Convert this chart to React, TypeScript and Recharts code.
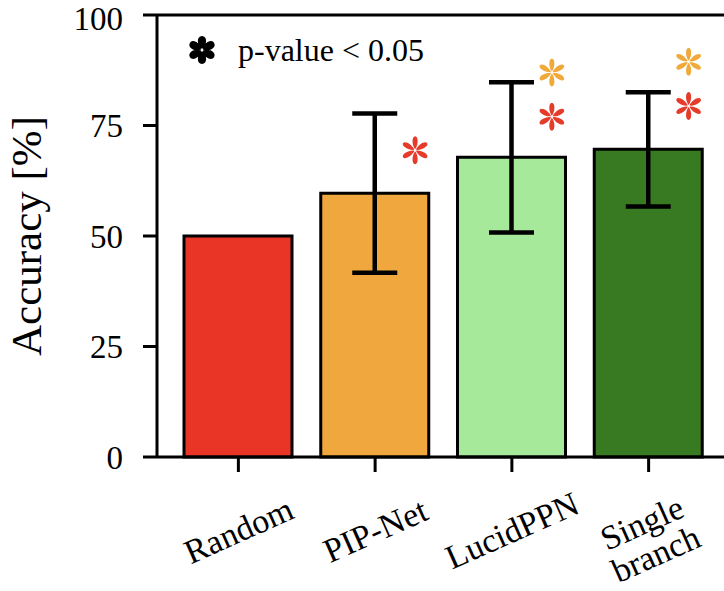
import { ComposedChart, Bar, Cell, XAxis, YAxis, ErrorBar, Scatter, ReferenceLine } from "recharts";

const categories = ["Random", "PIP-Net", "LucidPPN", "Single\nbranch"];
const accuracy = [50, 59.7, 67.8, 69.6];
const errors = [null, 18, 17, 12.9];
const redStars = [null, 69.4, 77, 79.4];
const orangeStars = [null, null, 87, 89.4];
const yTicks = [0, 25, 50, 75, 100];

const barColors = ["#e83525", "#f0a83e", "#a6e99a", "#387a22"];
const RED = "#e53b2b";
const ORANGE = "#f0aa3c";
const FONT = "Liberation Serif";

const chartData = categories.map((name, i) => ({
  name,
  accuracy: accuracy[i],
  err: errors[i],
  red: redStars[i],
  orange: orangeStars[i],
}));

// six teardrop petals
const asteriskPath = (cx: number, cy: number, r: number, w: number) => {
  let d = "";
  for (let k = 0; k < 6; k++) {
    const a = (k * Math.PI) / 3;
    const pt = (px: number, py: number) => {
      const x = cx + px * Math.cos(a) - py * Math.sin(a);
      const y = cy + px * Math.sin(a) + py * Math.cos(a);
      return `${x.toFixed(2)} ${y.toFixed(2)}`;
    };
    d += `M${pt(0, -1)} C${pt(w, -r * 0.35)} ${pt(w, -r)} ${pt(0, -r)} C${pt(-w, -r)} ${pt(-w, -r * 0.35)} ${pt(0, -1)} Z `;
  }
  return d;
};

const starShape = (color: string) => (props: any) => {
  const { cx, cy } = props;
  if (cx == null || cy == null || isNaN(cy)) return <g />;
  return <path d={asteriskPath(cx + 40, cy, 14, 3.4)} fill={color} />;
};

const XTick = (props: any) => {
  const { x, y, payload } = props;
  const lines = String(payload.value).split("\n");
  const cy = y + (lines.length > 1 ? 64 : 56);
  return (
    <g transform={`translate(${x},${cy}) rotate(-24)`}>
      <text textAnchor="middle" style={{ fontFamily: FONT, fontSize: 34 }} fill="#000" dominantBaseline="central">
        {lines.map((l, i) => (
          <tspan key={i} x={0} dy={i === 0 ? -((lines.length - 1) * 34) / 2 : 34}>
            {l}
          </tspan>
        ))}
      </text>
    </g>
  );
};

const App = () => {
  return (
    <div style={{ position: "absolute", left: 0, top: 0, width: 724, height: 591, background: "#fff" }}>
      <ComposedChart width={724} height={591} data={chartData} margin={{ top: 15, right: 0, bottom: 0, left: 0 }} barSize={108}>
        <XAxis
          dataKey="name"
          height={134}
          padding={{ left: 13, right: 7 }}
          tickSize={15}
          axisLine={{ stroke: "#000", strokeWidth: 3 }}
          tickLine={{ stroke: "#000", strokeWidth: 3 }}
          tick={<XTick />}
          interval={0}
        />
        <YAxis
          width={157}
          domain={[0, 100]}
          ticks={yTicks}
          tickSize={14}
          tickMargin={20}
          axisLine={{ stroke: "#000", strokeWidth: 3 }}
          tickLine={{ stroke: "#000", strokeWidth: 3 }}
          tick={{ fill: "#000", fontSize: 33, style: { fontFamily: FONT } }}
          label={{
            value: "Accuracy [%]",
            angle: -90,
            position: "center",
            dx: -53,
            style: { fill: "#000", fontSize: 43, fontFamily: FONT },
          }}
        />
        <ReferenceLine y={100} stroke="#000" strokeWidth={3} />
        <Bar dataKey="accuracy" stroke="#000" strokeWidth={3} isAnimationActive={false}>
          {chartData.map((_, i) => (
            <Cell key={i} fill={barColors[i]} />
          ))}
          <ErrorBar dataKey="err" width={22.5} stroke="#000" strokeWidth={4.5} direction="y" />
        </Bar>
        <Scatter dataKey="red" shape={starShape(RED)} isAnimationActive={false} />
        <Scatter dataKey="orange" shape={starShape(ORANGE)} isAnimationActive={false} />
      </ComposedChart>
      <div style={{ position: "absolute", left: 186, top: 30, display: "flex", alignItems: "center" }}>
        <svg width={32} height={32} style={{ display: "block" }}>
          <path d={asteriskPath(16, 16, 14, 5.5)} fill="#000" />
        </svg>
        <span style={{ fontFamily: FONT, fontSize: 32, marginLeft: 20, lineHeight: "40px" }}>p-value &lt; 0.05</span>
      </div>
    </div>
  );
};

export default App;
